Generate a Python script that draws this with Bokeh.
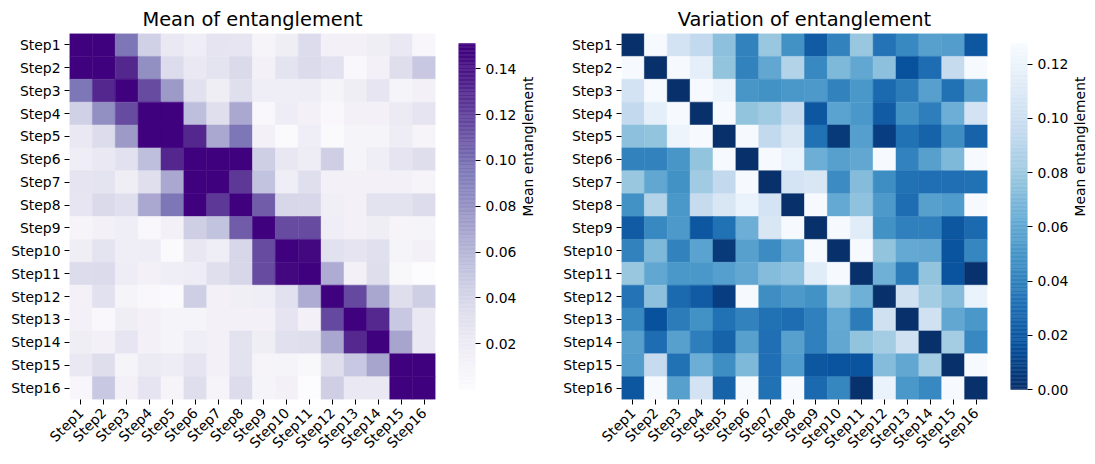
import math
import numpy as np
from bokeh.plotting import figure
from bokeh.layouts import row
from bokeh.models import (ColumnDataSource, FactorRange, Range1d, LinearColorMapper,
                          FixedTicker, NumeralTickFormatter)
from bokeh.transform import transform
from bokeh.palettes import Purples256, Blues256
from bokeh.embed import file_html
from bokeh.resources import INLINE

steps = [f"Step{i}" for i in range(1, 17)]

# Mean entanglement between every pair of steps
mean_entanglement = [
    [0.150, 0.150, 0.097, 0.044, 0.024, 0.019, 0.028, 0.027, 0.009, 0.018, 0.036, 0.014, 0.014, 0.018, 0.024, 0.007],
    [0.150, 0.150, 0.132, 0.083, 0.036, 0.024, 0.029, 0.038, 0.014, 0.029, 0.037, 0.031, 0.005, 0.014, 0.034, 0.049],
    [0.097, 0.132, 0.150, 0.116, 0.076, 0.031, 0.018, 0.033, 0.019, 0.019, 0.020, 0.010, 0.018, 0.027, 0.010, 0.013],
    [0.044, 0.083, 0.116, 0.150, 0.150, 0.055, 0.033, 0.068, 0.005, 0.020, 0.013, 0.005, 0.013, 0.014, 0.022, 0.028],
    [0.024, 0.036, 0.076, 0.150, 0.150, 0.132, 0.068, 0.097, 0.013, 0.003, 0.019, 0.003, 0.010, 0.010, 0.020, 0.009],
    [0.019, 0.024, 0.031, 0.055, 0.132, 0.150, 0.150, 0.150, 0.046, 0.025, 0.020, 0.046, 0.010, 0.019, 0.028, 0.034],
    [0.028, 0.029, 0.018, 0.033, 0.068, 0.150, 0.150, 0.124, 0.053, 0.019, 0.033, 0.014, 0.014, 0.014, 0.014, 0.009],
    [0.027, 0.038, 0.033, 0.068, 0.097, 0.150, 0.124, 0.150, 0.108, 0.040, 0.040, 0.016, 0.013, 0.030, 0.030, 0.036],
    [0.009, 0.014, 0.019, 0.005, 0.013, 0.046, 0.053, 0.108, 0.150, 0.116, 0.116, 0.019, 0.014, 0.018, 0.009, 0.010],
    [0.018, 0.029, 0.019, 0.020, 0.003, 0.025, 0.019, 0.040, 0.116, 0.150, 0.147, 0.031, 0.028, 0.032, 0.010, 0.014],
    [0.036, 0.037, 0.020, 0.013, 0.019, 0.020, 0.033, 0.040, 0.116, 0.147, 0.150, 0.066, 0.013, 0.034, 0.006, 0.001],
    [0.014, 0.031, 0.010, 0.005, 0.003, 0.046, 0.014, 0.016, 0.019, 0.031, 0.066, 0.150, 0.117, 0.069, 0.034, 0.046],
    [0.014, 0.005, 0.018, 0.013, 0.010, 0.010, 0.014, 0.013, 0.014, 0.028, 0.013, 0.117, 0.150, 0.131, 0.049, 0.024],
    [0.018, 0.014, 0.027, 0.014, 0.010, 0.019, 0.014, 0.030, 0.018, 0.032, 0.034, 0.069, 0.131, 0.150, 0.070, 0.024],
    [0.024, 0.034, 0.010, 0.022, 0.020, 0.028, 0.014, 0.030, 0.009, 0.010, 0.006, 0.034, 0.049, 0.070, 0.150, 0.150],
    [0.007, 0.049, 0.013, 0.028, 0.009, 0.034, 0.009, 0.036, 0.010, 0.014, 0.001, 0.046, 0.024, 0.024, 0.150, 0.150],
]

# Variation of entanglement between every pair of steps
variation_entanglement = [
    [0.000, 0.127, 0.104, 0.094, 0.074, 0.040, 0.078, 0.048, 0.021, 0.040, 0.078, 0.033, 0.043, 0.056, 0.054, 0.019],
    [0.127, 0.000, 0.127, 0.116, 0.076, 0.040, 0.060, 0.088, 0.043, 0.070, 0.060, 0.074, 0.016, 0.030, 0.096, 0.127],
    [0.104, 0.127, 0.000, 0.127, 0.121, 0.050, 0.048, 0.051, 0.052, 0.040, 0.051, 0.028, 0.037, 0.056, 0.032, 0.056],
    [0.094, 0.116, 0.127, 0.000, 0.127, 0.076, 0.081, 0.096, 0.019, 0.057, 0.051, 0.021, 0.048, 0.038, 0.064, 0.104],
    [0.074, 0.076, 0.121, 0.127, 0.000, 0.127, 0.094, 0.108, 0.032, 0.005, 0.055, 0.007, 0.032, 0.025, 0.046, 0.025],
    [0.040, 0.040, 0.050, 0.076, 0.127, 0.000, 0.127, 0.119, 0.064, 0.056, 0.060, 0.127, 0.040, 0.056, 0.070, 0.127],
    [0.078, 0.060, 0.048, 0.081, 0.094, 0.127, 0.000, 0.105, 0.108, 0.045, 0.072, 0.046, 0.032, 0.031, 0.031, 0.032],
    [0.048, 0.088, 0.051, 0.096, 0.108, 0.119, 0.105, 0.000, 0.127, 0.061, 0.075, 0.052, 0.030, 0.056, 0.053, 0.127],
    [0.021, 0.043, 0.052, 0.019, 0.032, 0.064, 0.108, 0.127, 0.000, 0.127, 0.113, 0.048, 0.039, 0.039, 0.019, 0.028],
    [0.040, 0.070, 0.040, 0.057, 0.005, 0.056, 0.045, 0.061, 0.127, 0.000, 0.127, 0.076, 0.061, 0.060, 0.017, 0.042],
    [0.078, 0.060, 0.051, 0.051, 0.055, 0.060, 0.072, 0.075, 0.113, 0.127, 0.000, 0.065, 0.037, 0.076, 0.017, 0.001],
    [0.033, 0.074, 0.028, 0.021, 0.007, 0.127, 0.046, 0.052, 0.048, 0.076, 0.065, 0.000, 0.102, 0.082, 0.072, 0.119],
    [0.043, 0.016, 0.037, 0.048, 0.032, 0.040, 0.032, 0.030, 0.039, 0.061, 0.037, 0.102, 0.000, 0.102, 0.060, 0.051],
    [0.056, 0.030, 0.056, 0.038, 0.025, 0.056, 0.031, 0.056, 0.039, 0.060, 0.076, 0.082, 0.102, 0.000, 0.082, 0.043],
    [0.054, 0.096, 0.032, 0.064, 0.046, 0.070, 0.031, 0.053, 0.019, 0.017, 0.017, 0.072, 0.060, 0.082, 0.000, 0.127],
    [0.019, 0.127, 0.056, 0.104, 0.025, 0.127, 0.032, 0.127, 0.028, 0.042, 0.001, 0.119, 0.051, 0.043, 0.127, 0.000],
]

mean_ticks = [0.02, 0.04, 0.06, 0.08, 0.10, 0.12, 0.14]
variation_ticks = [0.00, 0.02, 0.04, 0.06, 0.08, 0.10, 0.12]
colorbar_label = "Mean entanglement"

FONT = "DejaVu Sans"
TICK_SIZE = "13.9px"
TITLE_SIZE = "19.4px"
FIG_H = 464
TOP = 33           # top border shared by every panel so the frames line up
FRAME = 366        # heatmap frame size (square cells)
BOTTOM = FIG_H - TOP - FRAME
BAR_INSET = 10     # colour bar is shorter than the heatmap by this much at each end

mean_mapper = LinearColorMapper(palette=list(Purples256)[::-1], low=0.0, high=0.151)
var_mapper = LinearColorMapper(palette=list(Blues256), low=0.0, high=0.1276)


def heatmap(title, matrix, mapper, left_border, right_border):
    cols, rows, vals = [], [], []
    for i, r in enumerate(steps):
        for j, c in enumerate(steps):
            cols.append(c)
            rows.append(r)
            vals.append(matrix[i][j])
    src = ColumnDataSource(dict(col=cols, row=rows, value=vals))
    p = figure(x_range=FactorRange(*steps), y_range=FactorRange(*steps[::-1]),
               frame_width=FRAME, frame_height=FRAME,
               min_border_left=left_border, min_border_right=right_border,
               min_border_top=TOP, min_border_bottom=BOTTOM,
               output_backend="svg", toolbar_location=None, title=title)
    p.rect(x="col", y="row", width=1, height=1, source=src,
           fill_color=transform("value", mapper),
           line_color=transform("value", mapper), line_width=0.5)
    p.grid.visible = False
    p.outline_line_color = None
    p.title.text_font = FONT
    p.title.text_font_size = TITLE_SIZE
    p.title.text_font_style = "normal"
    p.title.text_color = "black"
    p.title.align = "center"
    p.title.standoff = 6
    for ax in (p.xaxis[0], p.yaxis[0]):
        ax.axis_line_color = None
        ax.major_tick_out = 5
        ax.major_tick_in = 0
        ax.major_tick_line_color = "black"
        ax.major_label_text_font = FONT
        ax.major_label_text_font_size = TICK_SIZE
        ax.major_label_text_color = "black"
        ax.major_label_standoff = 4
    p.xaxis.major_label_orientation = math.pi / 4
    p.xaxis.major_label_standoff = 6
    return p


def colorbar(mapper, ticks, right_border):
    lo, hi = mapper.low, mapper.high
    bar_h = FRAME - 2 * BAR_INSET
    pad = (hi - lo) * BAR_INSET / bar_h
    edges = np.linspace(lo, hi, 257)
    mids = (edges[:-1] + edges[1:]) / 2
    src = ColumnDataSource(dict(bottom=edges[:-1], top=edges[1:], value=mids))
    p = figure(x_range=Range1d(0, 1), y_range=Range1d(lo - pad, hi + pad),
               frame_width=17, frame_height=FRAME,
               min_border_left=0, min_border_right=right_border,
               min_border_top=TOP, min_border_bottom=BOTTOM,
               x_axis_location=None, y_axis_location="right",
               output_backend="svg", toolbar_location=None)
    p.quad(left=0, right=1, bottom="bottom", top="top", source=src,
           fill_color=transform("value", mapper),
           line_color=transform("value", mapper), line_width=0.5)
    p.grid.visible = False
    p.outline_line_color = None
    ax = p.yaxis[0]
    ax.ticker = FixedTicker(ticks=ticks)
    ax.formatter = NumeralTickFormatter(format="0.00")
    ax.axis_line_color = None
    ax.major_tick_out = 5
    ax.major_tick_in = 0
    ax.minor_tick_line_color = None
    ax.major_tick_line_color = "black"
    ax.major_label_text_font = FONT
    ax.major_label_text_font_size = TICK_SIZE
    ax.major_label_text_color = "black"
    ax.major_label_standoff = 5
    ax.axis_label = colorbar_label
    ax.axis_label_text_font = FONT
    ax.axis_label_text_font_size = TICK_SIZE
    ax.axis_label_text_font_style = "normal"
    ax.axis_label_text_color = "black"
    ax.axis_label_standoff = 9
    ax.axis_label_orientation = math.pi / 2
    return p


p_mean = heatmap("Mean of entanglement", mean_entanglement, mean_mapper, 69, 23)
cb_mean = colorbar(mean_mapper, mean_ticks, 85)
p_var = heatmap("Variation of entanglement", variation_entanglement, var_mapper, 59, 23)
cb_var = colorbar(var_mapper, variation_ticks, 70)

layout = row(p_mean, cb_mean, p_var, cb_var)

open("out.html", "w").write(file_html(layout, INLINE))
